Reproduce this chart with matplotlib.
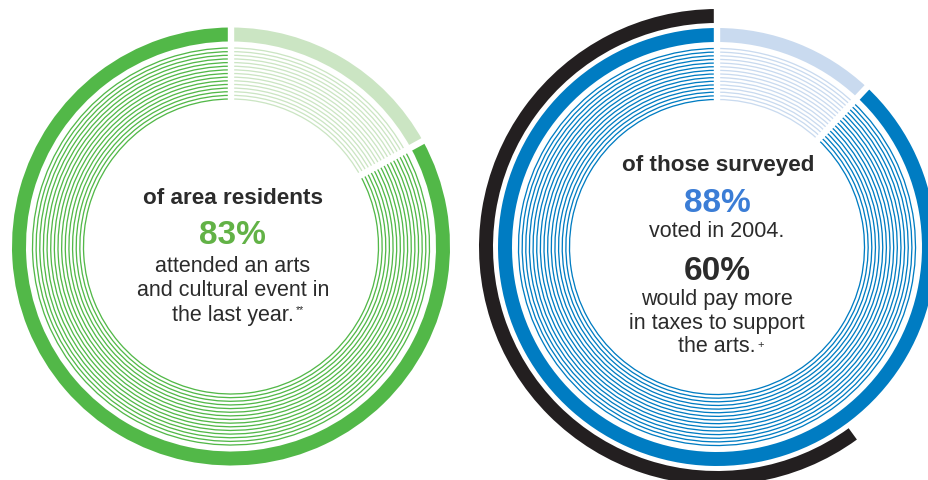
import matplotlib
matplotlib.use("Agg")
import matplotlib.pyplot as plt
from matplotlib.patches import Wedge
import numpy as np

# Survey figures (percent)
attended_pct = 83
voted_pct = 88
pay_taxes_pct = 60

left_lines = ["attended an arts", "and cultural event in", "the last year."]
right_lines_1 = ["voted in 2004."]
right_lines_2 = ["would pay more", "in taxes to support", "the arts."]

GREEN = "#52b848"
GREEN_LIGHT = "#cbe5c3"
GREEN_TEXT = "#62b246"
BLUE = "#007cc2"
BLUE_LIGHT = "#c9daef"
BLUE_TEXT = "#3b7dd6"
BLACK = "#231f20"
TEXT = "#2b2b2b"
FONT = "Liberation Sans"

W, H = 929, 481
fig = plt.figure(figsize=(W / 100, H / 100), dpi=100)
ax = fig.add_axes([0, 0, 1, 1])
ax.set_xlim(0, W)
ax.set_ylim(0, H)
ax.set_aspect("equal")
ax.axis("off")

R_OUT = 219          # outer edge of thick ring
RING_W = 14          # thick ring width
THIN_R = np.linspace(198.5, 147.5, 15)  # thin concentric lines
THIN_W = 1.3
GAP = 4.6            # white separator width (points)


def angle(frac):
    """clockwise fraction from 12 o'clock -> matplotlib degrees"""
    return 90 - 360 * frac


def ring_chart(cx, cy, pct, dark, light):
    split = 1 - pct / 100
    # light share: from top clockwise to the split
    ax.add_patch(Wedge((cx, cy), R_OUT, angle(split), 90, width=RING_W,
                       color=light, lw=0))
    # dark share: from the split around to the top
    ax.add_patch(Wedge((cx, cy), R_OUT, angle(1), angle(split), width=RING_W,
                       color=dark, lw=0))
    for r in THIN_R:
        ax.add_patch(Wedge((cx, cy), r + THIN_W / 2, angle(split), 90,
                           width=THIN_W, color=light, lw=0))
        ax.add_patch(Wedge((cx, cy), r + THIN_W / 2, angle(1), angle(split),
                           width=THIN_W, color=dark, lw=0))
    return split


def separators(cx, cy, fracs, reach):
    for f in fracs:
        a = np.deg2rad(angle(f))
        ax.plot([cx, cx + reach * np.cos(a)], [cy, cy + reach * np.sin(a)],
                color="white", lw=GAP, solid_capstyle="butt", zorder=5)


# Left chart
lcx, lcy = 231, 481 - 247.5
s = ring_chart(lcx, lcy, attended_pct, GREEN, GREEN_LIGHT)
separators(lcx, lcy, [0, s], R_OUT + 6)

# Right chart
rcx, rcy = 717, 481 - 248
s2 = ring_chart(rcx, rcy, voted_pct, BLUE, BLUE_LIGHT)
# outer black arc for the 60% share, ending at the top
ax.add_patch(Wedge((rcx, rcy), 238, angle(1), angle(1 - pay_taxes_pct / 100),
                   width=RING_W, color=BLACK, lw=0))
separators(rcx, rcy, [0, s2], 245)

# Texts
HEAD = 16.2
PCT = 24
BODY = 15.5
kw = dict(ha="center", va="center", family=FONT, zorder=10)
ax.text(233, 481 - 199, "of area residents", fontsize=HEAD, weight="bold",
        color=TEXT, **kw)
ax.text(232, 481 - 236, f"{attended_pct}%", fontsize=PCT, weight="bold",
        color=GREEN_TEXT, **kw)
ys = [267, 291, 315]
last = None
for t, y in zip(left_lines, ys):
    last = ax.text(233, 481 - y, t, fontsize=BODY, color=TEXT, **kw)
ax.annotate("**", xy=(1, 0.95), xycoords=last, xytext=(1, 0),
            textcoords="offset points", ha="left", va="top", fontsize=7.5,
            color=TEXT, family=FONT, zorder=10)

ax.text(718, 481 - 166, "of those surveyed", fontsize=HEAD, weight="bold",
        color=TEXT, **kw)
ax.text(717, 481 - 204, f"{voted_pct}%", fontsize=PCT, weight="bold",
        color=BLUE_TEXT, **kw)
ax.text(717, 481 - 232, right_lines_1[0], fontsize=BODY, color=TEXT, **kw)
ax.text(717, 481 - 271, f"{pay_taxes_pct}%", fontsize=PCT, weight="bold",
        color=TEXT, **kw)
for t, y in zip(right_lines_2, [299, 323, 347]):
    last = ax.text(717, 481 - y, t, fontsize=BODY, color=TEXT, **kw)
ax.annotate("+", xy=(1, 0.85), xycoords=last, xytext=(1, 0),
            textcoords="offset points", ha="left", va="top", fontsize=8,
            color=TEXT, family=FONT, zorder=10)

fig.savefig("out.png", dpi=100, facecolor="white")
